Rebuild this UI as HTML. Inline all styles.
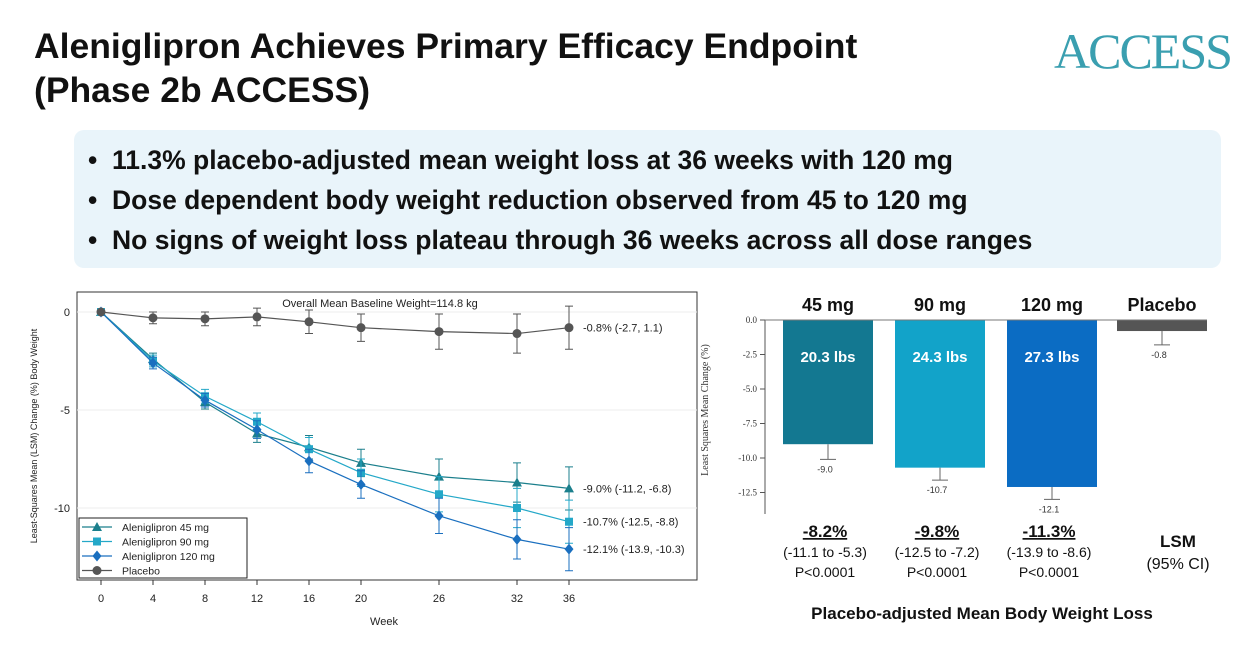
<!DOCTYPE html>
<html><head><meta charset="utf-8"><style>
body{margin:0;width:1253px;height:652px;background:#fff;font-family:"Liberation Sans",sans-serif;overflow:hidden;position:relative}
.t{position:absolute;white-space:nowrap}
</style></head><body>
<div class="t" style="left:34px;top:24px;font-size:35.5px;font-weight:bold;line-height:44px;color:#111">Aleniglipron Achieves Primary Efficacy Endpoint<br>(Phase 2b ACCESS)</div>
<div class="t" style="left:1054px;top:22px;font-family:'Liberation Serif',serif;font-size:50px;color:#3a9fb0;letter-spacing:-2px">ACCESS</div>
<div style="position:absolute;left:74px;top:130px;width:1147px;height:138px;background:#e9f4fa;border-radius:10px"></div>
<div class="t" style="left:88px;top:140px;font-size:26.5px;font-weight:bold;line-height:40px;color:#111">
• &nbsp;11.3% placebo-adjusted mean weight loss at 36 weeks with 120 mg<br>
• &nbsp;Dose dependent body weight reduction observed from 45 to 120 mg<br>
• &nbsp;No signs of weight loss plateau through 36 weeks across all dose ranges</div>

<svg id="lc" width="1253" height="652" style="position:absolute;left:0;top:0" font-family="Liberation Sans, sans-serif"></svg>

<script>
const weeks=[0,4,8,12,16,20,26,32,36];
const s45=[0,-2.4,-4.6,-6.2,-6.9,-7.7,-8.4,-8.7,-9.0];
const s90=[0,-2.5,-4.3,-5.6,-7.0,-8.2,-9.3,-10.0,-10.7];
const s120=[0,-2.6,-4.5,-6.0,-7.6,-8.8,-10.4,-11.6,-12.1];
const sPbo=[0,-0.3,-0.35,-0.25,-0.5,-0.8,-1.0,-1.1,-0.8];
const errHalf=[0.1,0.3,0.35,0.45,0.6,0.7,0.9,1.0,1.1];
const endLabels=["-9.0% (-11.2, -6.8)","-10.7% (-12.5, -8.8)","-12.1% (-13.9, -10.3)","-0.8% (-2.7, 1.1)"];
const yTicks=[0,-5,-10];
const barCats=["45 mg","90 mg","120 mg","Placebo"];
const barVals=[-9.0,-10.7,-12.1,-0.8];
const barErr=[1.1,0.9,0.9,1.0];
const barLbs=["20.3 lbs","24.3 lbs","27.3 lbs",""];
const barTicks=[0,-2.5,-5,-7.5,-10,-12.5];
const adjVals=["-8.2%","-9.8%","-11.3%"];
const adjCI=["(-11.1 to -5.3)","(-12.5 to -7.2)","(-13.9 to -8.6)"];

const NS="http://www.w3.org/2000/svg";
const svg=document.getElementById('lc');
function mk(tag,a,parent){const e=document.createElementNS(NS,tag);for(const k in a)e.setAttribute(k,a[k]);(parent||svg).appendChild(e);return e;}
function txt(s,a){const e=mk('text',a);e.textContent=s;return e;}

const xL=w=>101+w*13.0;
const yL=v=>312-v*19.6;
let e=mk('rect',{x:77,y:292,width:620,height:288,fill:'none',stroke:'#333','stroke-width':1});

yTicks.forEach(v=>{
 e=mk('line',{x1:77,x2:697,y1:yL(v),y2:yL(v),stroke:'#eee'});
 
 e=txt(String(v),{x:70,y:yL(v)+4,'text-anchor':'end','font-size':11,fill:'#222'});
 
});
weeks.forEach(w=>{
 e=mk('line',{x1:xL(w),x2:xL(w),y1:580,y2:585,stroke:'#333'});
 
 e=txt(String(w),{x:xL(w),y:602,'text-anchor':'middle','font-size':11,fill:'#222'});
 
});
e=txt('Week',{x:384,y:625,'text-anchor':'middle','font-size':11,fill:'#222'});

e=txt('Least-Squares Mean (LSM) Change (%) Body Weight',{x:0,y:0,'text-anchor':'middle','font-size':9,fill:'#222',transform:'translate(37,436) rotate(-90)'});

e=txt('Overall Mean Baseline Weight=114.8 kg',{x:380,y:307,'text-anchor':'middle','font-size':11,fill:'#222'});


function marker(shape,x,y,c){
 if(shape==='tri')return mk('polygon',{points:`${x},${y-5} ${x-5},${y+4} ${x+5},${y+4}`,fill:c});
 if(shape==='sq')return mk('rect',{x:x-4,y:y-4,width:8,height:8,fill:c});
 if(shape==='dia')return mk('polygon',{points:`${x},${y-5.5} ${x+4.5},${y} ${x},${y+5.5} ${x-4.5},${y}`,fill:c});
 return mk('circle',{cx:x,cy:y,r:4.5,fill:c});
}
const series=[[s45,'#1b7f8c','tri','series-45mg',0],[s90,'#24a8c8','sq','series-90mg',1],[s120,'#1a6fbf','dia','series-120mg',2],[sPbo,'#555','circ','series-placebo',3]];
series.forEach(([d,c,sh,name,i])=>{
 e=mk('polyline',{points:d.map((v,j)=>xL(weeks[j])+','+yL(v)).join(' '),fill:'none',stroke:c,'stroke-width':1.2});
 
 d.forEach((v,j)=>{
  const x=xL(weeks[j]),h=errHalf[j]*19.6;
  if(j>0){
   e=mk('path',{d:`M${x},${yL(v)-h}V${yL(v)+h}M${x-4},${yL(v)-h}H${x+4}M${x-4},${yL(v)+h}H${x+4}`,stroke:c,'stroke-width':1,fill:'none'});
   
  }
  e=marker(sh,x,yL(v),c);
  
 });
 e=txt(endLabels[i],{x:583,y:yL(d[d.length-1])+4,'font-size':11,fill:'#222'});
 
});
e=mk('rect',{x:79,y:518,width:168,height:60,fill:'#fff',stroke:'#222'});

const legNames=['Aleniglipron 45 mg','Aleniglipron 90 mg','Aleniglipron 120 mg','Placebo'];
series.forEach(([d,c,sh,name,i])=>{
 const y=527+i*14.5;
 e=mk('line',{x1:82,x2:112,y1:y,y2:y,stroke:c,'stroke-width':1.2});
 
 marker(sh,97,y,c);
 e=txt(legNames[i],{x:122,y:y+4,'font-size':10.5,fill:'#222'});
 
});

const yB=v=>320-v*13.8;
const barX=[783,895,1007,1117];
const barC=['#137891','#12a3c9','#0b6cc3','#555'];
e=mk('line',{x1:765,x2:765,y1:320,y2:514,stroke:'#555'});

barTicks.forEach(v=>{
 e=mk('line',{x1:760,x2:765,y1:yB(v),y2:yB(v),stroke:'#555'});
 
 e=txt(v.toFixed(1),{x:757,y:yB(v)+3,'text-anchor':'end','font-size':9,fill:'#333','font-family':'Liberation Serif, serif'});
 
});
e=txt('Least Squares Mean Change (%)',{x:0,y:0,'text-anchor':'middle','font-size':10,fill:'#333','font-family':'Liberation Serif, serif',transform:'translate(708,410) rotate(-90)'});

barVals.forEach((v,i)=>{
 const x=barX[i],w=90,cx=x+w/2;
 e=mk('rect',{x:x,y:yB(0),width:w,height:yB(v)-yB(0),fill:barC[i]});
 
 const eb=yB(v-barErr[i]);
 e=mk('path',{d:`M${cx},${yB(v)}V${eb}M${cx-8},${eb}H${cx+8}`,stroke:'#666',fill:'none'});
 
 e=txt(v.toFixed(1),{x:cx-3,y:eb+13,'text-anchor':'middle','font-size':9,fill:'#333'});
 
 e=txt(barCats[i],{x:cx,y:311,'text-anchor':'middle','font-size':18,'font-weight':'bold',fill:'#111'});
 
 if(barLbs[i]){e=txt(barLbs[i],{x:cx,y:362,'text-anchor':'middle','font-size':15,'font-weight':'bold',fill:'#fff'});
 }
});
e=mk('line',{x1:765,x2:1207,y1:320,y2:320,stroke:'#777'});

adjVals.forEach((s,i)=>{
 const cx=barX[i]+45-3;
 e=txt(s,{x:cx,y:537,'text-anchor':'middle','font-size':17,'font-weight':'bold',fill:'#111','text-decoration':'underline'});
 
 e=txt(adjCI[i],{x:cx,y:557,'text-anchor':'middle','font-size':14,fill:'#111'});
 
 e=txt('P<0.0001',{x:cx,y:577,'text-anchor':'middle','font-size':14,fill:'#111'});
 
});
e=txt('LSM',{x:1178,y:547,'text-anchor':'middle','font-size':17,'font-weight':'bold',fill:'#111'});

e=txt('(95% CI)',{x:1178,y:569,'text-anchor':'middle','font-size':16,fill:'#111'});

e=txt('Placebo-adjusted Mean Body Weight Loss',{x:982,y:619,'text-anchor':'middle','font-size':17,'font-weight':'bold',fill:'#111'});

</script>
</body></html>
